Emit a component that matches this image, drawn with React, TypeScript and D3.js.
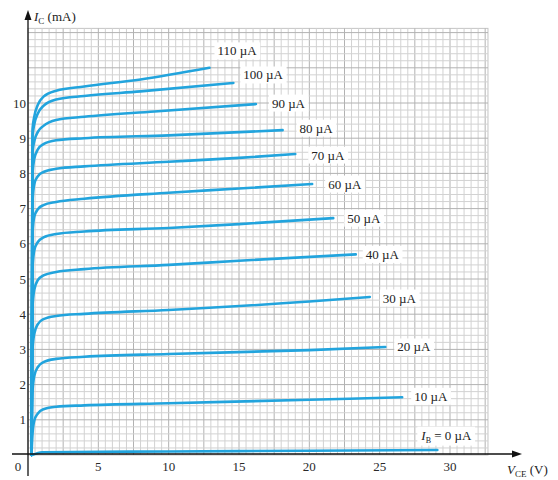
import React, { useEffect, useRef } from 'react';
import * as d3 from 'd3';

// base current of each curve, in µA
const baseCurrents = [0, 10, 20, 30, 40, 50, 60, 70, 80, 90, 100, 110];

// [VCE (V), IC (mA)]
const ib0 = [[0.3, 0.0], [1, 0.08], [10, 0.1], [20, 0.12], [29.1, 0.14]];
const ib10 = [[0.25, 0], [0.32, 0.6], [0.45, 0.98], [0.7, 1.18], [1.1, 1.3], [2, 1.37], [4, 1.41], [10, 1.47], [20, 1.57], [26.6, 1.64]];
const ib20 = [[0.25, 0], [0.32, 1.8], [0.45, 2.25], [0.7, 2.5], [1.1, 2.64], [2, 2.73], [4, 2.79], [10, 2.87], [20, 2.98], [25.4, 3.07]];
const ib30 = [[0.25, 0], [0.32, 3.0], [0.45, 3.45], [0.7, 3.72], [1.1, 3.86], [2, 3.95], [4, 4.01], [10, 4.12], [20, 4.36], [24.3, 4.49]];
const ib40 = [[0.25, 0], [0.32, 4.2], [0.45, 4.7], [0.7, 4.97], [1.1, 5.1], [2, 5.2], [4, 5.28], [10, 5.4], [15, 5.52], [23.3, 5.7]];
const ib50 = [[0.25, 0], [0.32, 5.3], [0.45, 5.82], [0.7, 6.05], [1.1, 6.18], [2, 6.28], [4, 6.35], [10, 6.45], [15, 6.56], [21.7, 6.73]];
const ib60 = [[0.25, 0], [0.32, 6.3], [0.45, 6.78], [0.7, 6.98], [1.1, 7.1], [2, 7.19], [4, 7.28], [10, 7.45], [15, 7.57], [20.2, 7.7]];
const ib70 = [[0.25, 0], [0.32, 7.2], [0.45, 7.7], [0.7, 7.92], [1.1, 8.04], [2, 8.13], [4, 8.2], [10, 8.33], [15, 8.44], [19, 8.55]];
const ib80 = [[0.25, 0], [0.32, 8.0], [0.45, 8.42], [0.7, 8.68], [1.1, 8.83], [2, 8.94], [4, 9.0], [10, 9.08], [18.1, 9.23]];
const ib90 = [[0.25, 0], [0.32, 8.6], [0.45, 8.92], [0.7, 9.18], [1.1, 9.35], [2, 9.52], [4, 9.61], [9, 9.76], [16.2, 9.97]];
const ib100 = [[0.25, 0], [0.32, 9.05], [0.45, 9.4], [0.7, 9.7], [1.1, 9.92], [2, 10.1], [4, 10.2], [8, 10.33], [14.6, 10.57]];
const ib110 = [[0.25, 0], [0.32, 9.25], [0.45, 9.62], [0.7, 9.95], [1.1, 10.18], [2, 10.35], [4, 10.47], [8, 10.67], [12.9, 11.0]];

const curves = [ib0, ib10, ib20, ib30, ib40, ib50, ib60, ib70, ib80, ib90, ib100, ib110];

const xTicks = [5, 10, 15, 20, 25, 30];
const yTicks = [1, 2, 3, 4, 5, 6, 7, 8, 9, 10];

// label placement relative to the end of each curve (px)
const labelOffsets = [[-16, -15], [12, -1], [12, 0], [13, 1], [10, 0], [14, 0], [16, 0], [16, 1], [17, -2], [16, -1], [10, -8], [8, -17]];

const width = 558;
const height = 480;
const curveColor = '#22a4dd';
const font = '"Liberation Serif", "DejaVu Serif", serif';

const App = () => {
  const svgRef = useRef<SVGSVGElement>(null);

  useEffect(() => {
    const svg = d3.select(svgRef.current);
    svg.selectAll('*').remove();

    const x = d3.scaleLinear().domain([0, 30]).range([28, 450]);
    const y = d3.scaleLinear().domain([0, 12]).range([455, 32.6]);

    const vMax = 32.7;
    const iMax = 12.12;

    // graph paper
    const grid = svg.append('g');
    grid.append('rect')
      .attr('x', x(0)).attr('y', y(iMax))
      .attr('width', x(vMax) - x(0)).attr('height', y(0) - y(iMax))
      .attr('fill', '#fff').attr('stroke', '#c4c4c4');
    const vLines = d3.range(0.5, vMax, 0.5);
    const iLines = d3.range(0.2, iMax, 0.2);
    grid.selectAll('.vl').data(vLines).enter().append('line')
      .attr('x1', d => x(d)).attr('x2', d => x(d))
      .attr('y1', y(0)).attr('y2', y(iMax))
      .attr('stroke', d => (Math.abs(d / 2.5 - Math.round(d / 2.5)) < 1e-6 ? '#b2b2b2' : '#d2d2d2'))
      .attr('stroke-width', 1);
    grid.selectAll('.hl').data(iLines).enter().append('line')
      .attr('x1', x(0)).attr('x2', x(vMax))
      .attr('y1', d => y(d)).attr('y2', d => y(d))
      .attr('stroke', d => (Math.abs(d - Math.round(d)) < 1e-6 ? '#b2b2b2' : '#d2d2d2'))
      .attr('stroke-width', 1);

    // curves
    const line = d3.line<number[]>()
      .x(d => x(d[0]))
      .y(d => y(d[1]))
      .curve(d3.curveMonotoneX);

    svg.append('g').selectAll('path').data(curves).enter().append('path')
      .attr('d', d => line(d))
      .attr('fill', 'none')
      .attr('stroke', curveColor)
      .attr('stroke-width', 2.6)
      .attr('stroke-linecap', 'round');

    // axes
    const axes = svg.append('g').attr('stroke', '#111').attr('stroke-width', 1.3);
    axes.append('line').attr('x1', 12).attr('x2', 516).attr('y1', y(0) - 1).attr('y2', y(0) - 1);
    axes.append('line').attr('x1', x(0)).attr('x2', x(0)).attr('y1', 476).attr('y2', 16);
    svg.append('path')
      .attr('d', `M${522},${y(0) - 1} l-10,-3.5 l0,7 Z`).attr('fill', '#111');
    svg.append('path')
      .attr('d', `M${x(0)},${10} l-3.5,10 l7,0 Z`).attr('fill', '#111');

    // tick labels
    const tickText = svg.append('g')
      .attr('font-family', font).attr('font-size', 13).attr('fill', '#2a2a2a');
    tickText.selectAll('.xt').data(xTicks).enter().append('text')
      .attr('x', d => x(d)).attr('y', 471)
      .attr('text-anchor', 'middle')
      .text(d => d);
    tickText.selectAll('.yt').data(yTicks).enter().append('text')
      .attr('x', 26).attr('y', d => y(d))
      .attr('dy', '0.35em')
      .attr('text-anchor', 'end')
      .text(d => d);
    tickText.append('text').attr('x', 18).attr('y', 471).attr('text-anchor', 'middle').text('0');

    // axis titles
    const yTitle = svg.append('text')
      .attr('font-family', font).attr('font-size', 13).attr('fill', '#222')
      .attr('x', 34).attr('y', 21);
    yTitle.append('tspan').attr('font-style', 'italic').text('I');
    yTitle.append('tspan').attr('font-size', 9).attr('dy', 3).text('C');
    yTitle.append('tspan').attr('dy', -3).text(' (mA)');

    const xTitle = svg.append('text')
      .attr('font-family', font).attr('font-size', 13).attr('fill', '#222')
      .attr('x', 507).attr('y', 474);
    xTitle.append('tspan').attr('font-style', 'italic').text('V');
    xTitle.append('tspan').attr('font-size', 9).attr('dy', 3).text('CE');
    xTitle.append('tspan').attr('dy', -3).text(' (V)');

    // curve labels with white boxes
    const labels = svg.append('g');
    curves.forEach((pts, k) => {
      const end = pts[pts.length - 1];
      const [dx, dy] = labelOffsets[k];
      const lx = x(end[0]) + dx;
      const ly = y(end[1]) + dy;
      const g = labels.append('g');
      const bg = g.append('rect').attr('fill', '#fff');
      const t = g.append('text')
        .attr('font-family', font).attr('font-size', 13).attr('fill', '#222')
        .attr('x', lx).attr('y', ly).attr('dy', '0.35em');
      if (baseCurrents[k] === 0) {
        t.append('tspan').attr('font-style', 'italic').text('I');
        t.append('tspan').attr('font-size', 8).attr('dy', 3).text('B');
        t.append('tspan').attr('dy', -3).text(' = 0 µA');
      } else {
        t.text(`${baseCurrents[k]} µA`);
      }
      const bb = (t.node() as SVGTextElement).getBBox();
      bg.attr('x', bb.x - 3).attr('y', bb.y - 1)
        .attr('width', bb.width + 6).attr('height', bb.height + 2);
    });

    return () => {
      svg.selectAll('*').remove();
    };
  }, []);

  return (
    <svg
      ref={svgRef}
      width={width}
      height={height}
      style={{ position: 'absolute', left: 0, top: 0, background: '#fff' }}
    />
  );
};

export default App;
